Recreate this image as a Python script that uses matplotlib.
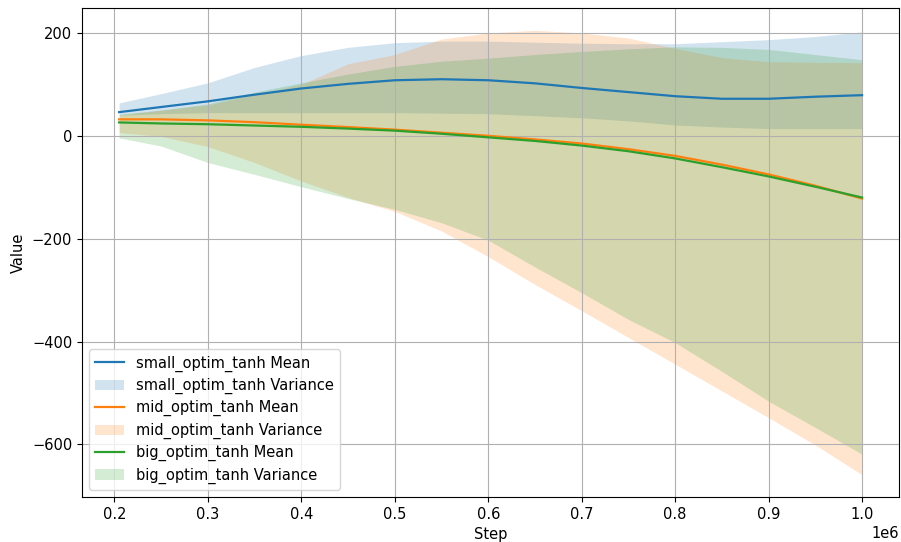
import numpy as np
import matplotlib
matplotlib.use("Agg")
import matplotlib.pyplot as plt

plt.rcParams["font.size"] = 10.5
plt.rcParams["lines.linewidth"] = 1.6

# training steps (x1e6)
steps = np.array([0.205, 0.25, 0.30, 0.35, 0.40, 0.45, 0.50, 0.55, 0.60,
                  0.65, 0.70, 0.75, 0.80, 0.85, 0.90, 0.95, 1.00]) * 1e6

# small_optim_tanh
small_mean = [46, 56, 67, 80, 92, 101, 108, 110, 108, 102, 93, 85, 77, 72, 72, 76, 79]
small_upper = [64, 82, 103, 133, 156, 172, 181, 184, 184, 182, 180, 179, 179, 183, 187, 193, 202]
small_lower = [40, 43, 45, 45, 45, 45, 45, 44, 43, 39, 35, 29, 21, 17, 14, 14, 14]

# mid_optim_tanh
mid_mean = [32, 32, 30, 26.5, 21.5, 17, 12, 6, 0, -7, -15, -26, -39, -56, -75, -97, -122]
mid_upper = [40, 50, 60, 80, 100, 140, 158, 188, 200, 205, 200, 190, 170, 152, 144, 143, 142]
mid_lower = [6, -1, -21, -52, -88, -120, -147, -185, -235, -289, -340, -392, -444, -496, -548, -601, -659]

# big_optim_tanh
big_mean = [26, 24, 22.5, 20, 17.5, 14, 10, 4, -3, -10, -19, -30, -44, -61, -79, -99, -120]
big_upper = [42, 50, 62, 85, 103, 120, 135, 145, 151, 158, 164, 169, 173, 172, 168, 158, 148]
big_lower = [-4, -20, -52, -75, -99, -122, -143, -169, -203, -255, -305, -357, -402, -458, -516, -567, -619]

runs = [
    ("small_optim_tanh", small_mean, small_lower, small_upper, "tab:blue"),
    ("mid_optim_tanh", mid_mean, mid_lower, mid_upper, "tab:orange"),
    ("big_optim_tanh", big_mean, big_lower, big_upper, "tab:green"),
]

fig, ax = plt.subplots(figsize=(9.01, 5.42), dpi=100)

for name, mean, lower, upper, color in runs:
    ax.plot(steps, mean, color=color, label=f"{name} Mean")
    ax.fill_between(steps, lower, upper, color=color, alpha=0.2, linewidth=0,
                    label=f"{name} Variance")

ax.set_xlabel("Step")
ax.set_ylabel("Value")
ax.grid(True)
ax.legend(loc="lower left", labelspacing=0.43)

plt.subplots_adjust(left=0.091, right=0.998, top=0.985, bottom=0.083)
plt.savefig("out.png", dpi=100)
plt.close()
